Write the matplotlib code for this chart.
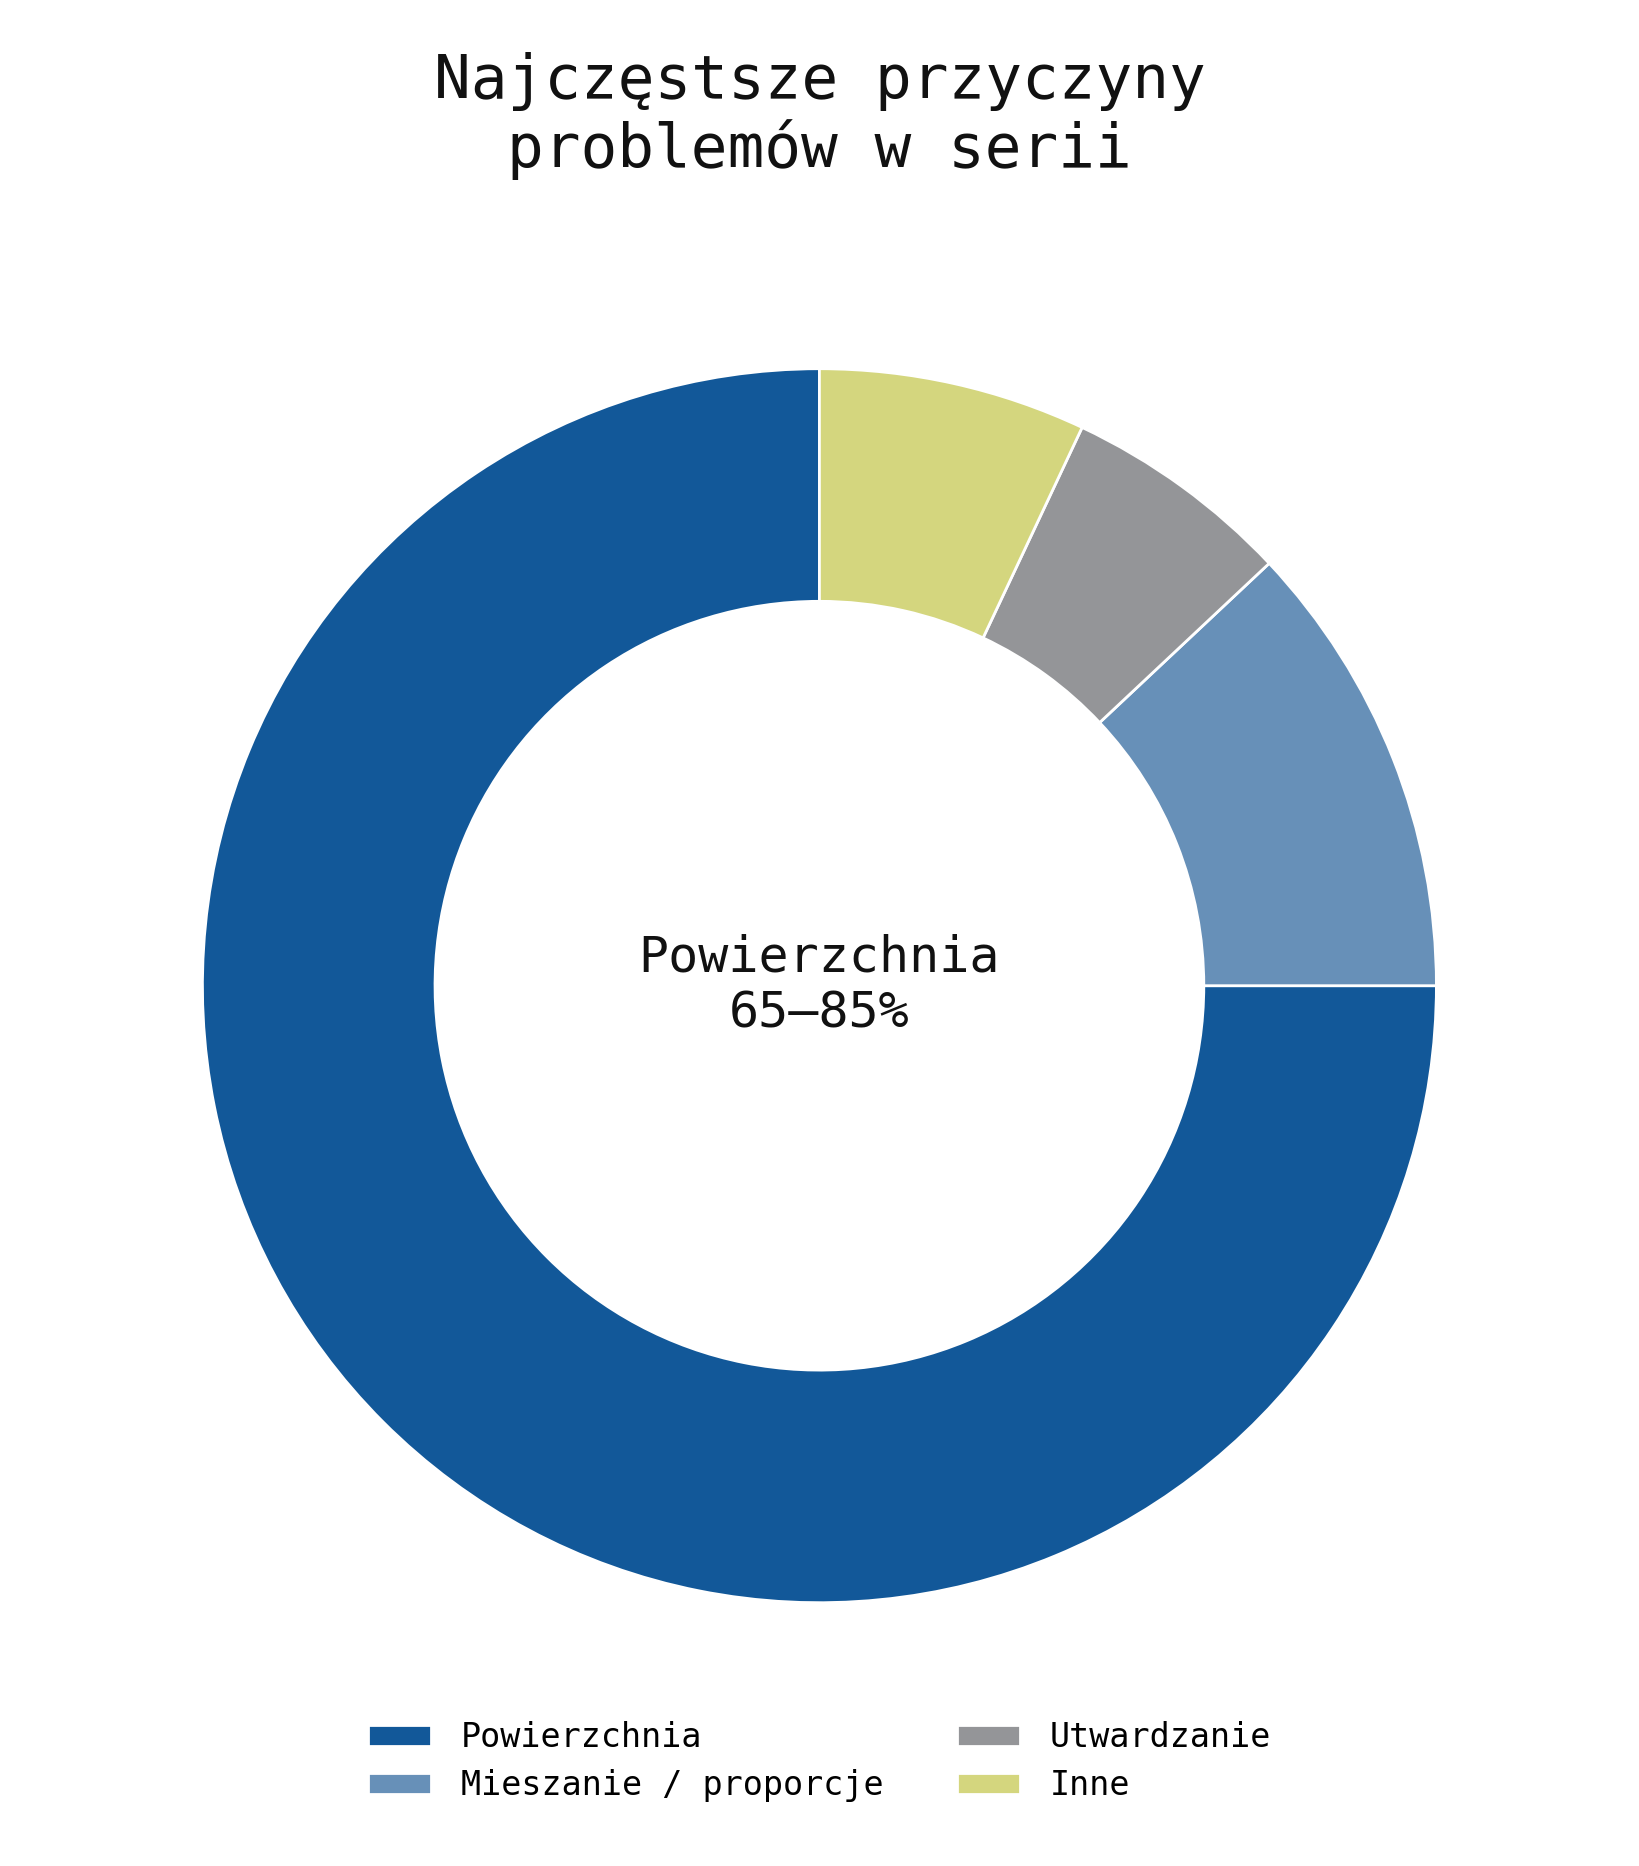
import matplotlib
matplotlib.use("Agg")
import matplotlib.pyplot as plt

plt.rcParams['font.family'] = ['DejaVu Sans Mono']

# Causes of problems in a batch (share in %)
labels = ['Powierzchnia', 'Mieszanie / proporcje', 'Utwardzanie', 'Inne']
values = [75, 12, 6, 7]
colors = ['#125899', '#6790b8', '#949598', '#d4d67e']

center_label = 'Powierzchnia\n65–85%'
title = 'Najczęstsze przyczyny\nproblemów w serii'

fig = plt.figure(figsize=(16.39, 18.66), dpi=100)
ax = fig.add_axes([0.1235, 0.1411, 0.7529, 0.6613])

wedges, _ = ax.pie(values, colors=colors, startangle=90, counterclock=True,
                   radius=1.0,
                   wedgeprops=dict(width=0.377, edgecolor='white', linewidth=2))
ax.set_xlim(-1, 1)
ax.set_ylim(-1, 1)
ax.set_aspect('equal')
ax.axis('off')

ax.text(0, 0, center_label, ha='center', va='center', fontsize=36,
        color='#111111', linespacing=1.2)

fig.text(0.5, 0.9378, title, ha='center', va='center', fontsize=44,
         color='#111111', linespacing=1.18)

fig.legend(wedges, labels, loc='center', bbox_to_anchor=(0.5, 0.056),
           ncol=2, frameon=False, fontsize=24, handlelength=1.9,
           handleheight=0.6, handletextpad=0.9, columnspacing=2.2,
           labelspacing=0.45)

fig.savefig('out.png', dpi=100, facecolor='white')
